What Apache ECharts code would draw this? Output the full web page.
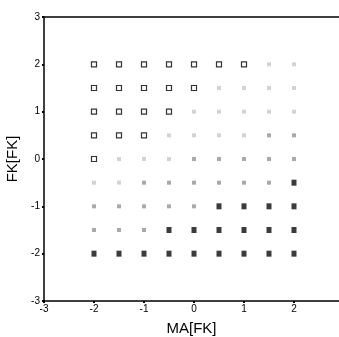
<!DOCTYPE html>
<html><head><meta charset="utf-8">
<script src="https://cdn.jsdelivr.net/npm/echarts@6/dist/echarts.min.js"></script>
<style>html,body{margin:0;padding:0;background:#fff}#c{width:339px;height:337px}</style>
</head><body><div id="c"></div>
<script>
const xTicks = [-3, -2, -1, 0, 1, 2];
const yTicks = [-3, -2, -1, 0, 1, 2, 3];
const hollowPts = [[-2,2],[-1.5,2],[-1,2],[-0.5,2],[0,2],[0.5,2],[1,2],
  [-2,1.5],[-1.5,1.5],[-1,1.5],[-0.5,1.5],[0,1.5],
  [-2,1],[-1.5,1],[-1,1],[-0.5,1],
  [-2,0.5],[-1.5,0.5],[-1,0.5],
  [-2,0]];
const lightPts = [[1.5,2],[2,2],
  [0.5,1.5],[1,1.5],[1.5,1.5],[2,1.5],
  [0,1],[0.5,1],[1,1],[1.5,1],[2,1],
  [-0.5,0.5],[0,0.5],[0.5,0.5],[1,0.5],
  [-1.5,0],[-1,0],[-0.5,0],
  [-2,-0.5],[-1.5,-0.5]];
const mediumPts = [[1.5,0.5],[2,0.5],
  [0,0],[0.5,0],[1,0],[1.5,0],[2,0],
  [-1,-0.5],[-0.5,-0.5],[0,-0.5],[0.5,-0.5],[1,-0.5],[1.5,-0.5],
  [-2,-1],[-1.5,-1],[-1,-1],[-0.5,-1],[0,-1],
  [-2,-1.5],[-1.5,-1.5],[-1,-1.5]];
const blackPts = [[2,-0.5],
  [0.5,-1],[1,-1],[1.5,-1],[2,-1],
  [-0.5,-1.5],[0,-1.5],[0.5,-1.5],[1,-1.5],[1.5,-1.5],[2,-1.5],
  [-2,-2],[-1.5,-2],[-1,-2],[-0.5,-2],[0,-2],[0.5,-2],[1,-2],[1.5,-2],[2,-2]];

const font = 'Liberation Sans, Arial, sans-serif';
const chart = echarts.init(document.getElementById('c'), null, {renderer:'canvas'});
chart.setOption({
  animation: false,
  grid: {left: 44, right: 0, top: 17, bottom: 36, containLabel: false, outerBoundsMode: 'none'},
  xAxis: [{
    type: 'value', min: -3, max: 2.9, interval: 1,
    name: 'MA[FK]', nameLocation: 'middle', nameGap: 20,
    nameTextStyle: {fontFamily: font, fontSize: 15, color: '#000'},
    splitLine: {show: false},
    axisLine: {show: true, onZero: false, lineStyle: {color: '#000', width: 1.5}},
    axisTick: {show: true, length: 2, lineStyle: {color: '#000', width: 2}, customValues: xTicks},
    axisLabel: {fontFamily: font, fontSize: 10, color: '#000', margin: 3, customValues: xTicks, formatter: v => String(v)}
  }, {
    type: 'value', position: 'top', min: -3, max: 2.9,
    axisLine: {show: true, onZero: false, lineStyle: {color: '#000', width: 1.5}},
    axisTick: {show: false}, axisLabel: {show: false}, splitLine: {show: false}
  }],
  yAxis: {
    type: 'value', min: -3, max: 3, interval: 1,
    name: 'FK[FK]', nameLocation: 'middle', nameGap: 15,
    nameTextStyle: {fontFamily: font, fontSize: 15, color: '#000'},
    splitLine: {show: false},
    axisLine: {show: true, onZero: false, lineStyle: {color: '#000', width: 1.5}},
    axisTick: {show: true, length: 2, lineStyle: {color: '#000', width: 2}},
    axisLabel: {fontFamily: font, fontSize: 10, color: '#000', margin: 4, padding: [0,0,6,0], customValues: yTicks}
  },
  series: [
    {type: 'scatter', data: lightPts, symbol: 'rect', symbolSize: 4, itemStyle: {color: '#c8c8c8'}},
    {type: 'scatter', data: mediumPts, symbol: 'rect', symbolSize: 4, itemStyle: {color: '#939393'}},
    {type: 'scatter', data: blackPts, symbol: 'rect', symbolSize: [5, 6], itemStyle: {color: '#0a0a0a'}},
    {type: 'scatter', data: hollowPts, symbol: 'rect', symbolSize: 5, itemStyle: {color: '#fff', borderColor: '#000', borderWidth: 1.2}}
  ]
});
</script></body></html>
